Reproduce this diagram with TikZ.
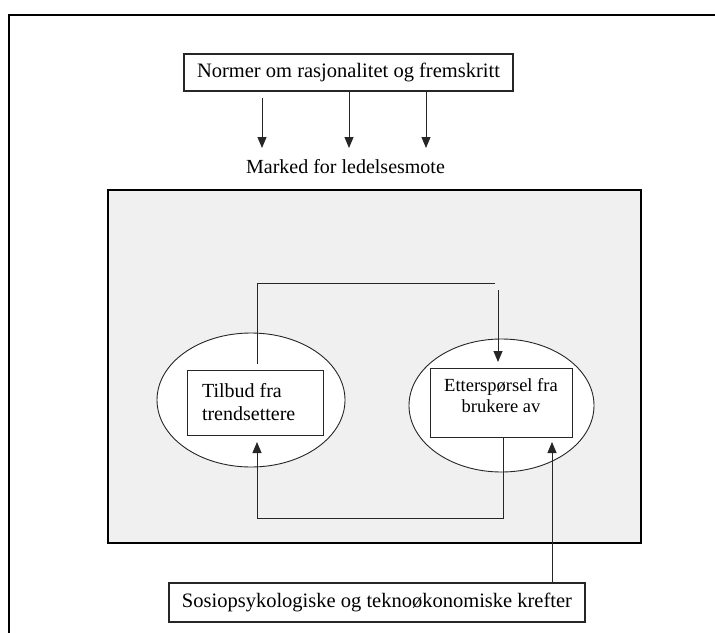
\documentclass[tikz,border=0pt]{standalone}
\usepackage{fontspec}
\setmainfont{Liberation Serif}
\usetikzlibrary{arrows.meta,shapes.geometric}
\begin{document}
\begin{tikzpicture}[x=1pt,y=-1pt,
  every node/.style={inner sep=0pt, outer sep=0pt},
  boxnode/.style={draw=black!85, line width=0.9pt},
  conn/.style={line width=0.9pt, draw=black!85},
  arr/.style={conn, -{Triangle[width=9pt,length=11pt]}},
  bigfont/.style={font=\fontsize{20.5}{24}\selectfont},
  midfont/.style={font=\fontsize{20}{23}\selectfont},
  smallfont/.style={font=\fontsize{18.5}{21}\selectfont}]
\useasboundingbox (0,0) rectangle (715,632);
% outer frame (only top and left edges visible)
\draw[line width=2pt] (9,640) -- (9,15) -- (720,15);

\node[boxnode, line width=1.1pt, bigfont, minimum width=329pt, minimum height=37pt] (norm) at (348.5,72.5) {Normer om rasjonalitet og fremskritt};
\node[midfont] (marked) at (345.5,167) {Marked for ledelsesmote};

\node[draw, line width=2pt, fill=black!6, minimum width=533pt, minimum height=353pt] (market) at (374.5,366.5) {};

\node[ellipse, draw=black!85, line width=0.9pt, fill=white, minimum width=188pt, minimum height=134pt] (eL) at (251,400) {};
\node[ellipse, draw=black!85, line width=0.9pt, fill=white, minimum width=185pt, minimum height=133pt] (eR) at (501.5,405.5) {};

\node[boxnode, fill=white, minimum width=136pt, minimum height=65pt] (tb) at (255,402.5) {};
\node[midfont, align=left, anchor=west] (tbtext) at (202,402) {Tilbud fra\\trendsettere};
\node[boxnode, fill=white, minimum width=142pt, minimum height=69pt] (es) at (501,402.5) {};
\node[smallfont, align=center] (estext) at (501,396) {Etterspørsel fra\\brukere av};

\node[boxnode, line width=1.1pt, bigfont, minimum width=416pt, minimum height=39pt] (sos) at (377,602.5) {Sosiopsykologiske og teknoøkonomiske krefter};

% arrows from norms to market
\coordinate (t1) at (262,148);
\coordinate (t2) at (349,148);
\coordinate (t3) at (426,148);
\draw[arr] ([yshift=-7pt]norm.south -| t1) -- (t1);
\draw[arr] (norm.south -| t2) -- (t2);
\draw[arr] (norm.south -| t3) -- (t3);

% top loop: supply -> demand
\coordinate (tl) at (257,283);
\coordinate (tr) at (495,283);
\coordinate (ta) at (498,290);
\draw[conn] ([yshift=6pt]tb.north -| tl) -- (tl) -- (tr);
\draw[arr] (ta) -- ([yshift=6pt]es.north -| ta);

% bottom loop: demand -> supply
\coordinate (bl) at (257,518);
\coordinate (br) at (503,518);
\draw[arr] (es.south -| br) -- (br) -- (bl) -- ([yshift=-7pt]tb.south -| bl);

% forces -> demand
\coordinate (rt) at (552,442);
\draw[arr] (sos.north -| rt) -- (rt);
\end{tikzpicture}
\end{document}
